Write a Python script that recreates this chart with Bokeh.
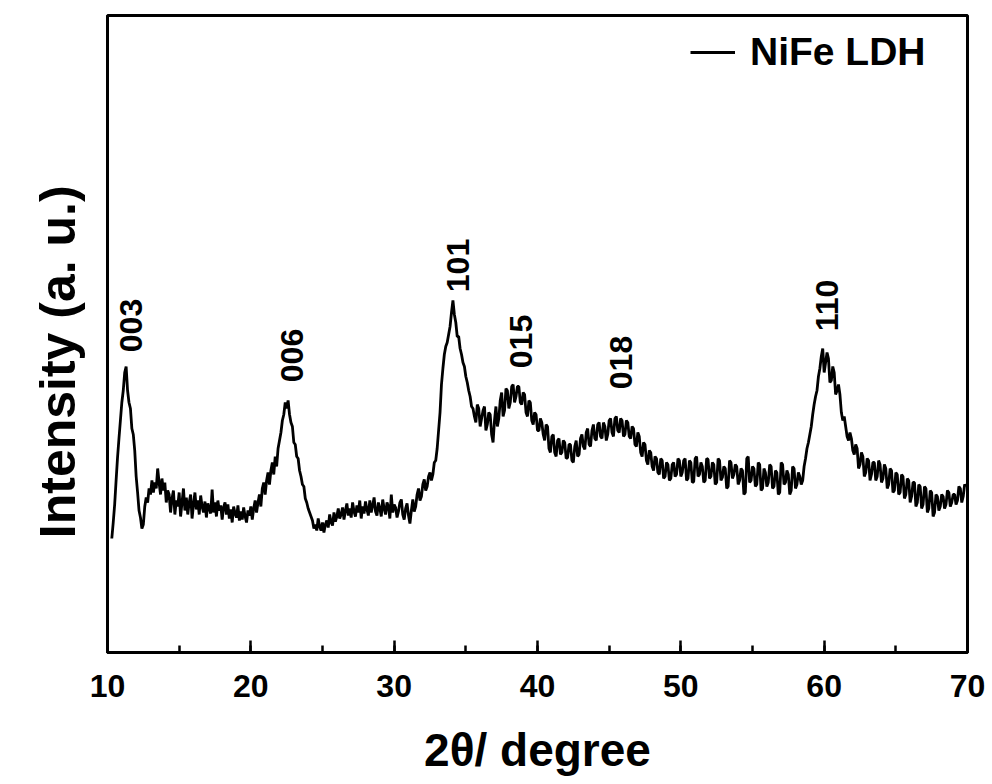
import math
from bokeh.plotting import figure
from bokeh.models import Range1d, SingleIntervalTicker, FixedTicker, Legend, LegendItem
from bokeh.embed import file_html
from bokeh.resources import INLINE
from bokeh.core.properties import value

# XRD pattern of NiFe LDH, read every 0.1 degree from 10.3 to 69.9 (arbitrary units)
theta_start = 10.3
theta_step = 0.1
intensity_10_30 = [
    114, 130, 148, 172, 195, 214, 232, 250, 262, 280,
    286, 262, 250, 244, 224, 218, 202, 176, 160, 142,
    135, 124, 128, 146, 155, 150, 164, 158, 172, 160,
    170, 164, 184, 170, 158, 174, 162, 170, 150, 162,
    158, 140, 154, 162, 138, 152, 146, 160, 136, 150,
    164, 142, 155, 138, 150, 158, 134, 148, 160, 143,
    152, 138, 157, 146, 140, 151, 135, 149, 144, 139,
    163, 140, 150, 136, 152, 142, 147, 133, 145, 150,
    138, 148, 134, 143, 130, 146, 139, 135, 147, 132,
    141, 133, 145, 136, 130, 142, 137, 146, 133, 144,
    152, 140, 150, 158, 146, 164, 170, 158, 172, 180,
    168, 182, 190, 178, 196, 186, 204, 212, 220, 232,
    238, 250, 244, 252, 238, 230, 226, 210, 208, 196,
    194, 182, 176, 168, 166, 154, 150, 144, 140, 136,
    132, 124, 128, 122, 134, 126, 122, 130, 120, 128,
    132, 125, 138, 130, 127, 140, 131, 136, 144, 134,
    138, 145, 133, 142, 149, 137, 144, 135, 150, 141,
    136, 147, 140, 152, 134, 146, 139, 151, 143, 137,
    152, 140, 147, 155, 141, 137, 150, 144, 136, 153,
    144, 138, 150, 146, 134, 158, 140, 148, 145, 135,
]
intensity_30_50 = [
    141, 150, 153, 138, 133, 144, 149, 137, 129, 142,
    153, 141, 146, 158, 164, 152, 156, 168, 173, 162,
    166, 176, 180, 172, 178, 190, 192, 204, 222, 240,
    268, 284, 298, 306, 310, 318, 326, 340, 352, 338,
    330, 316, 316, 304, 298, 290, 286, 276, 270, 262,
    256, 246, 244, 236, 230, 248, 244, 226, 234, 242,
    246, 222, 228, 240, 238, 218, 210, 232, 246, 226,
    234, 252, 260, 236, 242, 264, 262, 244, 250, 266,
    268, 250, 256, 266, 266, 250, 248, 260, 258, 240,
    236, 252, 250, 232, 228, 240, 238, 222, 222, 234,
    230, 218, 212, 228, 226, 204, 200, 216, 218, 200,
    196, 212, 214, 198, 200, 212, 210, 194, 195, 208,
    208, 192, 190, 206, 212, 196, 198, 214, 218, 206,
    203, 220, 224, 208, 206, 222, 228, 214, 212, 228,
    230, 216, 214, 230, 226, 212, 218, 232, 234, 220,
    216, 234, 236, 222, 220, 234, 232, 216, 218, 232,
    230, 216, 214, 226, 224, 208, 206, 220, 216, 200,
    196, 210, 208, 192, 188, 202, 200, 186, 182, 196,
    194, 180, 178, 194, 192, 174, 176, 190, 188, 172,
    174, 188, 190, 176, 178, 194, 192, 176, 180, 192,
]
intensity_50_70 = [
    194, 172, 174, 192, 190, 170, 171, 194, 196, 176,
    178, 190, 186, 170, 172, 194, 193, 174, 176, 190,
    188, 168, 170, 194, 192, 172, 175, 186, 184, 164,
    166, 192, 190, 174, 178, 188, 186, 168, 172, 184,
    182, 158, 160, 194, 196, 170, 172, 186, 184, 166,
    168, 190, 188, 162, 164, 184, 180, 166, 170, 188,
    186, 164, 166, 182, 180, 158, 160, 190, 188, 168,
    170, 182, 178, 158, 162, 186, 184, 164, 168, 180,
    176, 168, 172, 186, 194, 204, 210, 218, 226, 238,
    248, 256, 262, 276, 284, 296, 304, 280, 290, 300,
    294, 270, 272, 286, 280, 258, 262, 268, 258, 240,
    232, 236, 226, 216, 212, 220, 214, 202, 198, 208,
    204, 184, 188, 200, 196, 176, 180, 194, 192, 172,
    178, 190, 190, 172, 176, 192, 188, 170, 174, 188,
    184, 164, 168, 184, 182, 160, 162, 180, 178, 158,
    160, 178, 176, 154, 158, 174, 172, 150, 156, 170,
    170, 146, 150, 168, 166, 144, 148, 166, 164, 140,
    144, 162, 160, 136, 140, 158, 156, 142, 146, 158,
    156, 144, 148, 162, 160, 146, 150, 158, 158, 148,
    152, 166, 164, 150, 156, 168, 166,
]
intensity = intensity_10_30 + intensity_30_50 + intensity_50_70
two_theta = [round(theta_start + theta_step * i, 1) for i in range(len(intensity))]

peak_names = ["003", "006", "101", "015", "018", "110"]
peak_label_x = [11.67, 22.87, 34.42, 38.85, 45.83, 60.2]
peak_label_y = [327, 297, 387, 311, 290, 347]

series_name = "NiFe LDH"
y_title = "Intensity (a. u.)"

p = figure(width=990, height=782, output_backend="svg", toolbar_location=None,
           x_range=Range1d(10, 70), y_range=Range1d(0, 637),
           min_border_left=107, min_border_right=23, min_border_top=15, min_border_bottom=130,
           background_fill_color="white", border_fill_color="white")
p.title.visible = False
p.xgrid.visible = False
p.ygrid.visible = False
p.outline_line_color = "black"
p.outline_line_width = 3
p.outline_line_alpha = 1

r = p.line(two_theta, intensity, line_color="black", line_width=2.8)

p.text(x=peak_label_x, y=peak_label_y, text=peak_names, angle=math.pi / 2,
       text_align="center", text_baseline="middle",
       text_font=value("Liberation Sans"), text_font_style="bold",
       text_font_size="32px", text_color="black")

# x axis
xa = p.xaxis[0]
xa.ticker = SingleIntervalTicker(interval=10, num_minor_ticks=2)
xa.axis_line_width = 3
xa.major_tick_in = 12
xa.major_tick_out = 0
xa.minor_tick_in = 7
xa.minor_tick_out = 0
xa.major_tick_line_width = 2.5
xa.minor_tick_line_width = 2.5
xa.major_label_text_font = "Liberation Sans"
xa.major_label_text_font_style = "bold"
xa.major_label_text_font_size = "32px"
xa.major_label_text_color = "black"
xa.major_label_standoff = 22
xa.axis_label = "2\u03b8/ degree"
xa.axis_label_text_font = "Liberation Sans"
xa.axis_label_text_font_style = "bold"
xa.axis_label_text_font_size = "46px"
xa.axis_label_text_color = "black"
xa.axis_label_standoff = 24

# y axis: plain frame edge without ticks; its title sits a little below
# the frame centre in the reference, hence the trailing no-break spaces
ya = p.yaxis[0]
ya.ticker = FixedTicker(ticks=[])
ya.axis_line_width = 3
ya.major_tick_line_color = None
ya.minor_tick_line_color = None
ya.major_label_text_font_size = "0px"
ya.axis_label = y_title + "\u00a0" * 4
ya.axis_label_text_font = "Liberation Sans"
ya.axis_label_text_font_style = "bold"
ya.axis_label_text_font_size = "50px"
ya.axis_label_text_color = "black"
ya.axis_label_standoff = 22

legend = Legend(items=[LegendItem(label=series_name, renderers=[r])],
                location=(583, 578), padding=0, margin=0,
                glyph_width=45, glyph_height=20, label_standoff=15,
                label_text_font="Liberation Sans", label_text_font_style="bold",
                label_text_font_size="39px", label_text_color="black",
                border_line_alpha=0, background_fill_alpha=0)
p.add_layout(legend)

open("out.html", "w").write(file_html(p, INLINE, "NiFe LDH XRD"))
